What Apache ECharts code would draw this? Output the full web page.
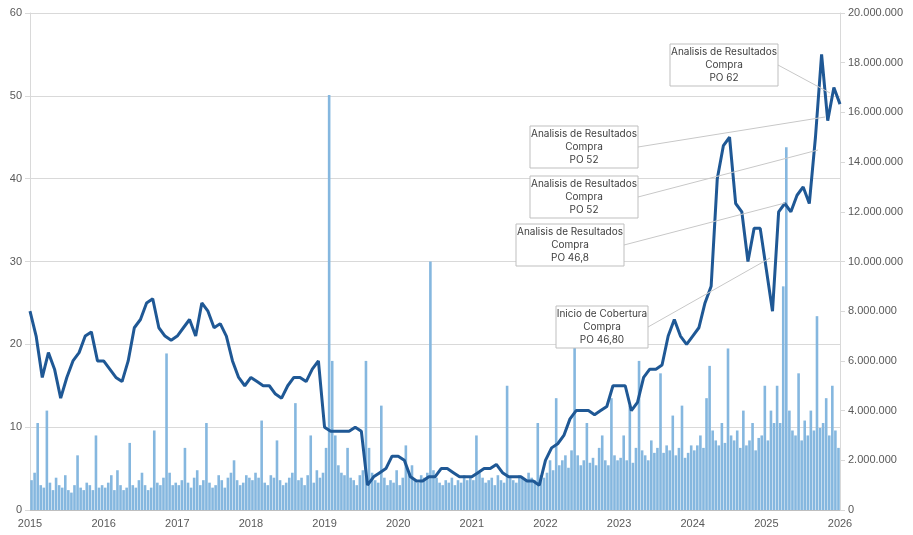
<!DOCTYPE html>
<html><head><meta charset="utf-8">
<script src="https://cdn.jsdelivr.net/npm/echarts@6/dist/echarts.min.js"></script>
<style>html,body{margin:0;padding:0;background:#fff}#c{width:913px;height:535px}</style>
</head><body><div id="c"></div>
<script>
const startYear = 2015;
const yearTicks = [2015,2016,2017,2018,2019,2020,2021,2022,2023,2024,2025,2026];
// monthly closing price, Jan 2015 .. Jan 2026
const price = [
24,21,16,19,17,13.5,16,18,19,21,21.5,18,
18,17,16,15.5,18,22,23,25,25.5,22,21,20.5,
21,22,23,21,25,24,22,22.5,21,18,16,15,
16,15.5,15,15,14,13.5,15,16,16,15.5,17,18,
10,9.5,9.5,9.5,9.5,10,9.5,3,4,4.5,5,6.5,
6.5,6,4,3.5,3.5,4,4,5,5,4.5,4,4,
4,4.5,5,5,5.5,4.5,4,4,4,3.5,3.5,3,
6,7.5,8,9,11,12,12,12,11.5,12,12.5,15,
15,15,12,13,16,17,17,17.5,21,23,21,20,
21,22,25,27,40,44,45,37,36,30,34,34,
29,24,36,37,36,38,39,37,45,55,47,51,
49];
// semi-monthly volume (millions), Jan 2015 .. Dec 2025
const volume = [
1.2,1.5,3.5,1.0,0.9,4,1.1,0.8,1.3,1.0,0.9,1.4,0.8,0.7,1.0,2.2,0.9,0.8,1.1,1.0,0.8,3.0,0.9,1.0,
0.9,1.1,1.4,0.8,1.6,1.0,0.8,0.9,2.7,1.0,0.9,1.2,1.5,1.0,0.8,0.9,3.2,1.1,1.0,1.3,6.3,1.5,1.0,1.1,
1.0,1.2,2.5,1.1,0.9,1.3,1.6,1.0,1.2,3.5,1.1,0.9,1.0,1.4,1.2,0.9,1.3,1.5,2.0,1.2,1.0,1.1,1.4,1.3,
1.2,1.5,1.3,3.6,1.1,1.0,1.4,1.3,2.8,1.2,1.0,1.1,1.3,1.5,4.3,1.2,1.3,1.0,1.4,3.0,1.1,1.6,1.3,1.5,
2.5,16.7,6,3,1.8,1.5,1.4,2.5,1.3,1.2,1.0,1.4,1.6,6.0,2.5,1.5,1.2,1.1,4.2,1.3,1.0,1.2,1.1,1.6,
1.0,1.3,2.6,1.5,1.8,1.2,1.1,1.4,1.3,1.5,10.0,1.6,1.3,1.1,1.0,1.2,1.1,1.3,1.0,1.2,1.1,1.4,1.2,1.3,
1.2,3.0,1.5,1.3,1.1,1.2,1.3,1.0,1.4,1.2,1.1,5.0,1.3,1.2,1.1,1.4,1.3,1.2,1.5,1.3,1.2,3.5,1.4,1.3,
1.5,2.0,1.6,4.5,1.8,2.0,2.2,1.7,2.4,7.0,2.2,1.8,2.0,3.5,1.9,2.1,1.8,2.5,3.0,2.0,1.8,4.5,2.2,2.0,
2.1,3.0,2.0,4.2,1.9,2.5,6.0,2.4,2.2,2.0,2.8,2.3,2.5,5.5,2.3,2.6,2.4,3.8,2.2,2.5,4.2,2.1,2.3,2.6,
2.4,2.6,3.0,2.5,4.5,5.8,3.2,2.8,2.6,3.5,2.7,6.5,3.0,2.8,3.2,2.5,4.0,2.6,2.8,3.5,2.4,2.9,3.0,5.0,
2.8,4.0,3.5,5.0,3.5,9.0,14.6,4.0,3.2,3.0,5.5,2.8,3.6,3.0,4.0,3.2,7.8,3.3,3.5,4.5,3.0,5.0,3.2,2.5];
const notes = [
  {text:'Analisis de Resultados\nCompra\nPO 62', box:[670,44,108,42], to:[830,93]},
  {text:'Analisis de Resultados\nCompra\nPO 52', box:[530,126,108,42], to:[825,117]},
  {text:'Analisis de Resultados\nCompra\nPO 52', box:[530,176,108,42], to:[818,150]},
  {text:'Analisis de Resultados\nCompra\nPO 46,8', box:[516,224,108,42], to:[785,203]},
  {text:'Inicio de Cobertura\nCompra\nPO 46,80', box:[556,306,92,42], to:[770,258]}
];
const priceData = price.map((v,i)=>[startYear + i/12, v]);
const volData = volume.map((v,i)=>[startYear + i/24 + 1/48, v*1e6]);
const fmt = v => String(Math.round(v)).replace(/\B(?=(\d{3})+(?!\d))/g,'.');
const chart = echarts.init(document.getElementById('c'));
const graphic = [];
notes.forEach(n=>{
  const [x,y,w,h]=n.box;
  graphic.push({type:'line',z:10,shape:{x1:x+w,y1:y+h/2,x2:n.to[0],y2:n.to[1]},style:{stroke:'#c8c8c8',lineWidth:1}});
  graphic.push({type:'rect',z:11,shape:{x:x,y:y,width:w,height:h},style:{fill:'#fff',stroke:'#bfbfbf',lineWidth:1}});
  graphic.push({type:'text',z:12,x:x+w/2,y:y+h/2,style:{text:n.text,fill:'#404040',font:'10px Inter, "Noto Sans", sans-serif',align:'center',verticalAlign:'middle',lineHeight:13}});
});
chart.setOption({
  animation:false,
  grid:{left:30,right:73,top:13,bottom:25},
  xAxis:{type:'value',min:2015,max:2026,interval:1,
    axisLine:{lineStyle:{color:'#bfbfbf'}},axisTick:{show:false},splitLine:{show:false},
    axisLabel:{color:'#595959',fontSize:11,formatter:v=>String(v)}},
  yAxis:[
    {type:'value',min:0,max:60,interval:10,axisLine:{show:true,lineStyle:{color:'#d9d9d9'}},
      axisLabel:{color:'#595959',fontSize:11},splitLine:{lineStyle:{color:'#d9d9d9'}}},
    {type:'value',min:0,max:20000000,interval:2000000,position:'right',axisLine:{show:true,lineStyle:{color:'#d9d9d9'}},
      axisLabel:{color:'#595959',fontSize:11,formatter:fmt},splitLine:{show:false}}
  ],
  series:[
    {type:'bar',yAxisIndex:1,data:volData,barWidth:2.6,itemStyle:{color:'#85b7df'},z:1},
    {type:'line',yAxisIndex:0,data:priceData,showSymbol:false,lineStyle:{color:'#1f5895',width:3},z:3}
  ],
  graphic:graphic
});
</script></body></html>
